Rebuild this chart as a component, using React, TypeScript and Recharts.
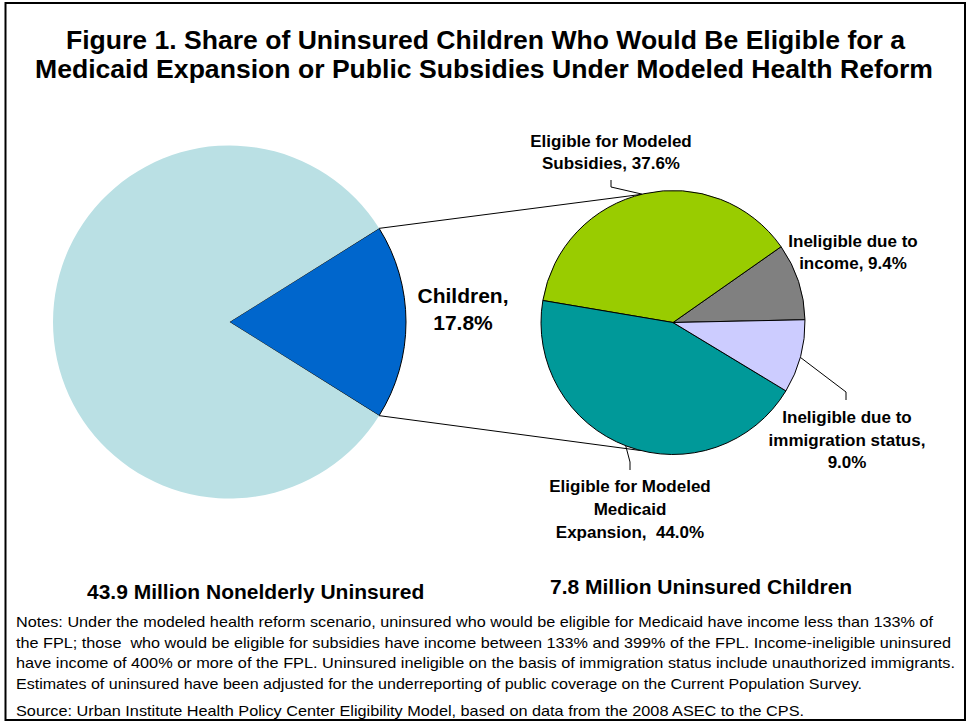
import React from 'react';
import { PieChart, Pie, Cell, Customized } from 'recharts';

// ---------- data ----------
const overallNames = ['Children', 'Other nonelderly uninsured'];
const overallValues = [17.8, 82.2];
const overallColors = ['#0066CC', '#BAE0E4'];

const childNames = [
  'Ineligible due to income',
  'Eligible for Modeled Subsidies',
  'Eligible for Modeled Medicaid Expansion',
  'Ineligible due to immigration status',
];
const childValues = [9.4, 37.6, 44.0, 9.0];
const childColors = ['#808080', '#99CC00', '#009999', '#CCCCFF'];

const titleLines = [
  'Figure 1. Share of Uninsured Children Who Would Be Eligible for a',
  'Medicaid Expansion or Public Subsidies Under Modeled Health Reform',
];
const totalLabels = ['43.9 Million Nonelderly Uninsured', '7.8 Million Uninsured Children'];
const notesLines = [
  'Notes: Under the modeled health reform scenario, uninsured who would be eligible for Medicaid have income less than 133% of',
  'the FPL; those  who would be eligible for subsidies have income between 133% and 399% of the FPL. Income-ineligible uninsured',
  'have income of 400% or more of the FPL. Uninsured ineligible on the basis of immigration status include unauthorized immigrants.',
  'Estimates of uninsured have been adjusted for the underreporting of public coverage on the Current Population Survey.',
];
const sourceLine = 'Source: Urban Institute Health Policy Center Eligibility Model, based on data from the 2008 ASEC to the CPS.';

const overallData = overallNames.map((name, i) => ({ name, value: overallValues[i] }));
const childData = childNames.map((name, i) => ({ name, value: childValues[i] }));

// ---------- layout ----------
const W = 967;
const H = 723;
const FONT = '"Liberation Sans", Arial, Helvetica, sans-serif';
const LP = { cx: 229.5, cy: 322, r: 176.5 };
const RP = { cx: 673, cy: 322.5, r: 132 };
const childSpan = (overallValues[0] / 100) * 360;
const leftStart = -childSpan / 2;
const rightStart = 1.2;

const pt = (c: { cx: number; cy: number }, r: number, deg: number) => {
  const a = (deg * Math.PI) / 180;
  return { x: c.cx + r * Math.cos(a), y: c.cy - r * Math.sin(a) };
};

const fmt = (v: number) => v.toFixed(1) + '%';

const Overlay = () => {
  const lTop = pt(LP, LP.r, childSpan / 2);
  const lBot = pt(LP, LP.r, -childSpan / 2);
  const rTop = pt(RP, RP.r, 104);
  const rBot = pt(RP, RP.r, -104);
  const lavEdge = pt(RP, RP.r, -15.3);
  const tealEdge = pt(RP, RP.r, -111);
  const greenEdge = pt(RP, RP.r, 103.5);
  const lbl = { fontFamily: FONT, fontWeight: 700, fontSize: 17, fill: '#000', textAnchor: 'middle' as const };
  return (
    <g>
      <rect x={5.5} y={3} width={959.5} height={717} fill="none" stroke="#000" strokeWidth={2} />
      {titleLines.map((t, i) => (
        <text
          key={t}
          x={i === 0 ? 66 : 35}
          y={i === 0 ? 49 : 78}
          fontFamily={FONT}
          fontWeight={700}
          fontSize={25}
          textLength={i === 0 ? 839 : 898}
          lengthAdjust="spacingAndGlyphs"
        >
          {t}
        </text>
      ))}
      {/* connectors between the pies */}
      <line x1={lTop.x} y1={lTop.y} x2={rTop.x} y2={rTop.y} stroke="#000" strokeWidth={1} />
      <line x1={lBot.x} y1={lBot.y} x2={rBot.x} y2={rBot.y} stroke="#000" strokeWidth={1} />
      {/* leader lines */}
      <polyline points={`611,180 611,187 ${greenEdge.x},${greenEdge.y}`} fill="none" stroke="#000" strokeWidth={1} />
      <polyline points={`${lavEdge.x},${lavEdge.y} 846,392 846,400`} fill="none" stroke="#000" strokeWidth={1} />
      <polyline points={`${tealEdge.x},${tealEdge.y} 630,462 630,470`} fill="none" stroke="#000" strokeWidth={1} />
      {/* children label */}
      <text x={463} y={303} fontFamily={FONT} fontWeight={700} fontSize={21} textAnchor="middle">
        <tspan x={463}>Children,</tspan>
        <tspan x={463} dy={27}>{fmt(overallValues[0])}</tspan>
      </text>
      {/* child pie labels */}
      <text {...lbl} x={611} y={147}>
        <tspan x={611}>Eligible for Modeled</tspan>
        <tspan x={611} dy={22}>{`Subsidies, ${fmt(childValues[1])}`}</tspan>
      </text>
      <text {...lbl} x={853} y={247}>
        <tspan x={853}>Ineligible due to</tspan>
        <tspan x={853} dy={22}>{`income, ${fmt(childValues[0])}`}</tspan>
      </text>
      <text {...lbl} x={847} y={423}>
        <tspan x={847}>Ineligible due to</tspan>
        <tspan x={847} dy={22.5}>immigration status,</tspan>
        <tspan x={847} dy={22.5}>{fmt(childValues[3])}</tspan>
      </text>
      <text {...lbl} x={630} y={492} style={{ whiteSpace: 'pre' }}>
        <tspan x={630}>Eligible for Modeled</tspan>
        <tspan x={630} dy={23}>Medicaid</tspan>
        <tspan x={630} dy={23}>{`Expansion,  ${fmt(childValues[2])}`}</tspan>
      </text>
      {/* totals */}
      <text x={87} y={599} fontFamily={FONT} fontWeight={700} fontSize={21}>{totalLabels[0]}</text>
      <text x={550} y={594} fontFamily={FONT} fontWeight={700} fontSize={21}>{totalLabels[1]}</text>
      {/* notes */}
      {notesLines.map((t, i) => (
        <text
          key={i}
          x={16}
          y={627 + i * 20.5}
          fontFamily={FONT}
          fontSize={15}
          textLength={[917, 935, 939, 846][i]}
          lengthAdjust="spacingAndGlyphs"
          style={{ whiteSpace: 'pre' }}
        >
          {t}
        </text>
      ))}
      <text x={16} y={716} fontFamily={FONT} fontSize={15} textLength={788} lengthAdjust="spacingAndGlyphs">
        {sourceLine}
      </text>
    </g>
  );
};

export default function App() {
  return (
    <div style={{ position: 'absolute', left: 0, top: 0, width: W, height: H, background: '#fff' }}>
      <PieChart width={W} height={H} margin={{ top: 0, right: 0, bottom: 0, left: 0 }}>
        <Pie
          data={overallData}
          dataKey="value"
          nameKey="name"
          cx={LP.cx}
          cy={LP.cy}
          outerRadius={LP.r}
          innerRadius={0}
          startAngle={leftStart}
          endAngle={leftStart + 360}
          isAnimationActive={false}
          label={false}
          labelLine={false}
        >
          {overallData.map((d, i) => (
            <Cell
              key={d.name}
              fill={overallColors[i]}
              stroke={i === 0 ? '#000' : overallColors[i]}
              strokeWidth={i === 0 ? 1 : 0}
            />
          ))}
        </Pie>
        <Pie
          data={childData}
          dataKey="value"
          nameKey="name"
          cx={RP.cx}
          cy={RP.cy}
          outerRadius={RP.r}
          innerRadius={0}
          startAngle={rightStart}
          endAngle={rightStart + 360}
          isAnimationActive={false}
          label={false}
          labelLine={false}
        >
          {childData.map((d, i) => (
            <Cell key={d.name} fill={childColors[i]} stroke="#000" strokeWidth={1} />
          ))}
        </Pie>
        <Customized component={Overlay} />
      </PieChart>
    </div>
  );
}
